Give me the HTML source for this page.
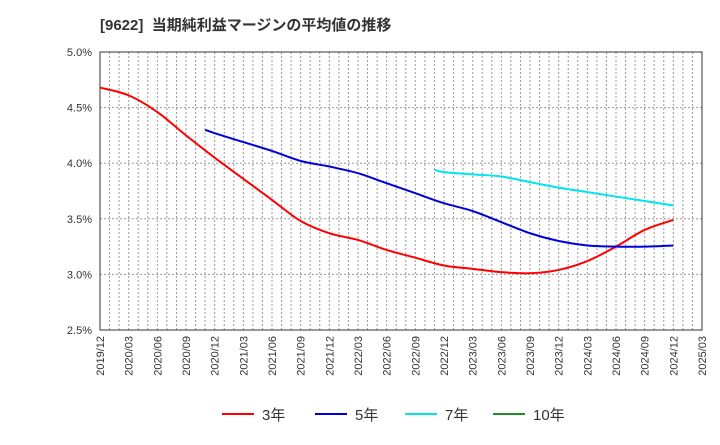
<!DOCTYPE html>
<html><head><meta charset="utf-8"><style>
body{margin:0;background:#fff;font-family:"Liberation Sans","Noto Sans CJK JP",sans-serif}
</style></head><body>
<svg width="720" height="440" xmlns="http://www.w3.org/2000/svg">
<text x="100" y="30" font-size="15" font-weight="bold" fill="#333" font-family="Liberation Sans,Noto Sans CJK JP,sans-serif" xml:space="preserve">[9622]  当期純利益マージンの平均値の推移</text>
<g id="grid"></g><g id="axes"></g><g id="series"></g><g id="legend"></g>
</svg>
<script>
const xLabels=["2019/12","2020/03","2020/06","2020/09","2020/12","2021/03","2021/06","2021/09","2021/12","2022/03","2022/06","2022/09","2022/12","2023/03","2023/06","2023/09","2023/12","2024/03","2024/06","2024/09","2024/12","2025/03"];
const yTicks=[2.5,3.0,3.5,4.0,4.5,5.0];
const s3=[4.68,4.61,4.46,4.25,4.05,3.86,3.67,3.48,3.37,3.31,3.22,3.15,3.08,3.05,3.02,3.01,3.04,3.12,3.25,3.40,3.49];
const s5=[4.30,4.27,4.19,4.11,4.02,3.97,3.91,3.82,3.73,3.64,3.57,3.47,3.37,3.30,3.26,3.25,3.25,3.26];
const s7=[3.94,3.92,3.90,3.88,3.83,3.78,3.74,3.70,3.66,3.62];
const s10=[];
const seriesNames=["3年","5年","7年","10年"];
const starts=[0,4,12,20];
const leadMonth=[false,true,true,false];
const NS="http://www.w3.org/2000/svg";
const L=100,R=702,T=52,B=330;
const X=i=>L+i*(R-L)/(xLabels.length-1);
const Y=v=>B-(v-2.5)/(5.0-2.5)*(B-T);
function mk(t,a,p){const e=document.createElementNS(NS,t);for(const k in a)e.setAttribute(k,a[k]);p.appendChild(e);return e;}
const grid=document.getElementById('grid'),axes=document.getElementById('axes'),ser=document.getElementById('series'),leg=document.getElementById('legend');
for(let m=1;m<(xLabels.length-1)*3;m++){const x=L+m*(R-L)/((xLabels.length-1)*3);
const l=mk('line',{x1:x,x2:x,y1:T,y2:B,stroke:'#999','stroke-dasharray':'2,2','stroke-width':1},grid);

}
yTicks.forEach(v=>{const y=Y(v);
if(v>2.5&&v<5){const l=mk('line',{x1:L,x2:R,y1:y,y2:y,stroke:'#999','stroke-dasharray':'2,2'},grid);

}
const t=mk('text',{x:L-8,y:y+4,'text-anchor':'end','font-size':11,fill:'#333'},axes);t.textContent=v.toFixed(1)+'%';

});
const fr=mk('rect',{x:L,y:T,width:R-L,height:B-T,fill:'none',stroke:'#333','stroke-width':1},axes);


xLabels.forEach((s,i)=>{const x=X(i);const t=mk('text',{transform:`translate(${x+4},${B+6}) rotate(-90)`,'text-anchor':'end','font-size':11,fill:'#333'},axes);t.textContent=s;

});
function path(pts){let d=`M${pts[0][0]},${pts[0][1]}`;for(let i=0;i<pts.length-1;i++){const p0=pts[i-1]||pts[i],p1=pts[i],p2=pts[i+1],p3=pts[i+2]||p2;
d+=` C${p1[0]+(p2[0]-p0[0])/6},${p1[1]+(p2[1]-p0[1])/6} ${p2[0]-(p3[0]-p1[0])/6},${p2[1]-(p3[1]-p1[1])/6} ${p2[0]},${p2[1]}`;}return d;}
const data=[s3,s5,s7,s10],cols=['#ff0000','#0000dd','#00e5ee','#228b22'];
data.forEach((s,k)=>{if(s.length<2)return;
const pts=s.map((v,i)=>{let idx;if(leadMonth[k]){idx=i===0?starts[k]-1/3:starts[k]+(i-1);}else idx=starts[k]+i;return [X(idx),Y(v)];});
const p=mk('path',{d:path(pts),fill:'none',stroke:cols[k],'stroke-width':2},ser);

});
const lx=[222,315,405,493];
seriesNames.forEach((n,k)=>{const g=mk('g',{},leg);


mk('line',{x1:lx[k],x2:lx[k]+32,y1:414,y2:414,stroke:cols[k],'stroke-width':2},g);
const t=mk('text',{x:lx[k]+40,y:420,'font-size':15,fill:'#333'},g);t.textContent=n;});
</script>
</body></html>
